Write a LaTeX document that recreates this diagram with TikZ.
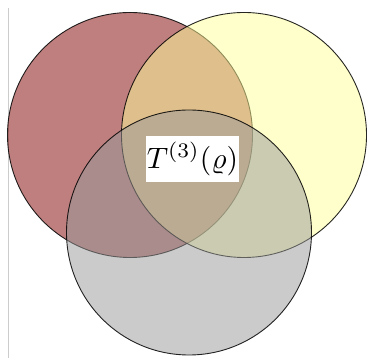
\documentclass[tikz,border=0pt]{standalone}
\begin{document}
\begin{tikzpicture}[x=1pt,y=1pt,
  venn/.style={draw=black, draw opacity=0.85, line width=0.9pt, fill opacity=0.5},
  lbl/.style={fill=white, inner sep=0pt, minimum width=93pt, minimum height=46pt}]
\useasboundingbox (0,0) rectangle (367,358);
\fill[white] (0,0) rectangle (367,358);
\coordinate (ltop) at (8.5,350);
\coordinate (lbot) at (8.5,0);
\draw[black!20, line width=0.8pt] (ltop) -- (lbot);
\coordinate (cr) at (130,223);
\coordinate (cy) at (244,223);
\coordinate (cg) at (189,125.5);
\draw[venn, fill={rgb,255:red,128;green,0;blue,0}] (cr) circle (122.5);
\draw[venn, fill={rgb,255:red,255;green,255;blue,153}] (cy) circle (122.5);
\draw[venn, fill={rgb,255:red,153;green,153;blue,153}] (cg) circle (122.5);
\node[lbl] (t) at (192.5,199) {\scalebox{2.95}{$T^{(3)}(\varrho)$}};
\end{tikzpicture}
\end{document}
